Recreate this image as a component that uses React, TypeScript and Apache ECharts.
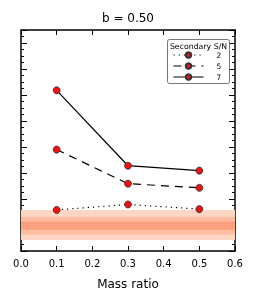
import React, { useEffect, useRef } from "react";
import * as echarts from "echarts";

const massRatio = [0.1, 0.3, 0.5];
const sn2 = [1.58, 1.79, 1.61];
const sn5 = [3.9, 2.59, 2.43];
const sn7 = [6.18, 3.28, 3.09];
const seriesNames = ["2", "5", "7"];
const bandOuter = [0.42, 1.58];
const bandMiddle = [0.63, 1.32];
const bandInner = [0.82, 1.13];

const FONT = "DejaVu Sans";

export default function App() {
  const ref = useRef<HTMLDivElement>(null);
  useEffect(() => {
    if (!ref.current) return;
    const chart = echarts.init(ref.current, undefined, { renderer: "svg" });
    const axisLine = () => ({ show: true, onZero: false, lineStyle: { color: "#000", width: 1.5 } });
    const tick = (len: number) => ({ show: true, inside: true, length: len, lineStyle: { color: "#000", width: 1 } });
    const mkLine = (name: string, data: number[], type: any) => ({
      name,
      type: "line",
      data: massRatio.map((x, i) => [x, data[i]]),
      symbol: "circle",
      symbolSize: 7,
      itemStyle: { color: "#ee1111", borderColor: "#333", borderWidth: 0.8 },
      lineStyle: { color: "#000", width: 1.2, type },
      z: 5,
    });
    const band = (r: number[], color: string) => [
      { xAxis: 0, yAxis: r[0], itemStyle: { color } },
      { xAxis: 0.6, yAxis: r[1] },
    ];
    const yAx = (position: string) => ({
      type: "value",
      min: 0,
      max: 8.5,
      interval: 1,
      position,
      axisLine: axisLine(),
      axisTick: tick(6),
      minorTick: { show: true, splitNumber: 4, length: 3, lineStyle: { color: "#000", width: 1 } },
      axisLabel: { show: false },
      splitLine: { show: false },
    });
    chart.setOption({
      animation: false,
      title: {
        text: "b = 0.50",
        left: "center",
        top: 7,
        textStyle: { fontFamily: FONT, fontSize: 12, fontWeight: "normal", color: "#000" },
      },
      grid: { left: 21, right: 21, top: 30, bottom: 52 },
      xAxis: [
        {
          type: "value",
          min: 0,
          max: 0.6,
          interval: 0.1,
          position: "bottom",
          name: "Mass ratio",
          nameLocation: "middle",
          nameGap: 27,
          nameTextStyle: { fontFamily: FONT, fontSize: 12, color: "#000" },
          axisLine: axisLine(),
          axisTick: tick(5),
          axisLabel: {
            fontFamily: FONT,
            fontSize: 10,
            color: "#000",
            margin: 7,
            formatter: (v: number) => v.toFixed(1),
          },
          splitLine: { show: false },
        },
        {
          type: "value",
          min: 0,
          max: 0.6,
          interval: 0.1,
          position: "top",
          axisLine: axisLine(),
          axisTick: tick(5),
          axisLabel: { show: false },
          splitLine: { show: false },
        },
      ],
      yAxis: [yAx("left"), yAx("right")],
      legend: {
        orient: "vertical",
        left: 173,
        top: 51,
        itemWidth: 30,
        itemHeight: 7,
        itemGap: 3,
        padding: 0,
        data: seriesNames,
        lineStyle: { width: 1 },
        textStyle: { fontFamily: FONT, fontSize: 7.5, color: "#000", padding: [0, 0, 0, 8] },
      },
      graphic: [
        {
          type: "rect",
          shape: { x: 167.5, y: 39.5, width: 62, height: 44, r: 2 },
          style: { fill: "#fff", stroke: "#555", lineWidth: 0.8 },
          z: 1,
        },
        {
          type: "text",
          x: 198.5,
          y: 42,
          style: {
            text: "Secondary S/N",
            fontFamily: FONT,
            fontSize: 7.8,
            fill: "#000",
            textAlign: "center",
          },
          z: 2,
        },
      ],
      series: [
        {
          name: "bands",
          type: "line",
          data: [],
          markArea: {
            silent: true,
            data: [
              band(bandOuter, "#fdd6c4"),
              band(bandMiddle, "#fcbda0"),
              band(bandInner, "#fc9f7c"),
            ],
          },
          z: 1,
        },
        mkLine(seriesNames[0], sn2, [1.2, 4]),
        mkLine(seriesNames[1], sn5, [8, 6]),
        mkLine(seriesNames[2], sn7, "solid"),
      ],
    });
    return () => chart.dispose();
  }, []);
  return (
    <div
      ref={ref}
      style={{ position: "fixed", left: 0, top: 0, width: 256, height: 303 }}
    />
  );
}
